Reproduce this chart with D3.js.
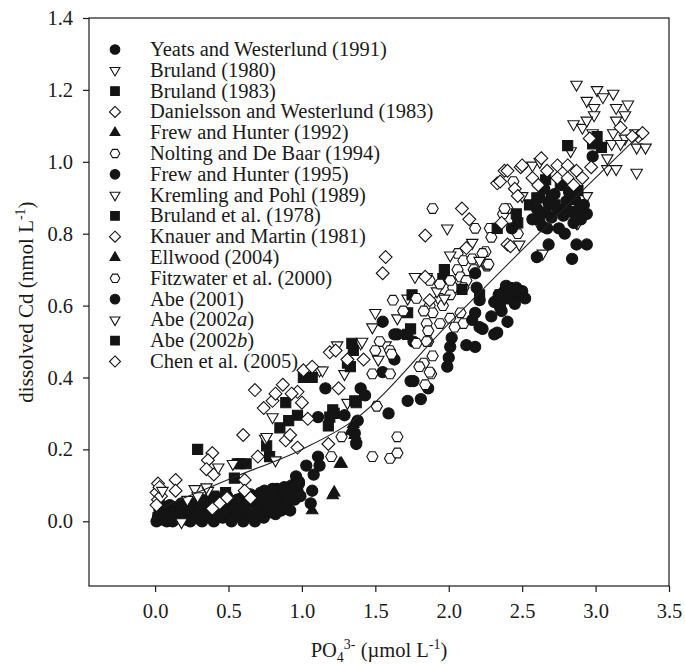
<!DOCTYPE html>
<meta charset="utf-8">
<style>
  body { margin: 0; padding: 0; background: #fff; }
  svg { font-family: "Liberation Serif", "Times New Roman", serif; background: #fff; }
  .frame { fill: none; stroke: #1a1a1a; stroke-width: 1.2px; }
  .axis path.domain { display: none; }
  .axis line { stroke: #1a1a1a; stroke-width: 1.2px; }
  .axis text { fill: #1a1a1a; font-family: "Liberation Serif", serif; font-size: 20.5px; }
  .fit { fill: none; stroke: #222; stroke-width: 1.1px; }
</style>
<script src="https://d3js.org/d3.v7.min.js"></script>
<svg id="vis"></svg>
<script>

var width = 685, height = 664;

// ---- data (PO4 umol/L, Cd nmol/L) ----
var yeats1991 = [[0.02,0.012],[0.03,0.03],[0.05,0.005],[0.07,0.02],[0.09,0.035],[0.11,0.01],[0.13,0.025],[0.15,0.04],[0.17,0.015],[0.19,0.03],[0.21,0.005],[0.23,0.045],[0.25,0.02],[0.27,0.035],[0.29,0.008],[0.31,0.05],[0.33,0.025],[0.35,0.04],[0.37,0.06],[0.39,0.015],[0.41,0.035],[0.43,0.055],[0.45,0.02],[0.47,0.045],[0.49,0.07],[0.51,0.03],[0.53,0.05],[0.55,0.015],[0.57,0.04],[0.59,0.065],[0.61,0.03],[0.63,0.055],[0.65,0.075],[0.67,0.02],[0.69,0.045],[0.71,0.065],[0.73,0.035],[0.745,0.085],[0.77,0.05],[0.79,0.07],[0.81,0.04],[0.83,0.09],[0.85,0.06],[0.87,0.08],[0.89,0.045],[0.91,0.07],[0.93,0.1],[0.95,0.06],[0.97,0.085],[0.98,0.11],[0.96,0.125],
  [0.01,0.0],[0.04,0.045],[0.06,0.015],[0.08,0.0],[0.1,0.045],[0.12,0.0],[0.16,0.025],[0.18,0.05],[0.2,0.015],[0.22,0.025],[0.24,0.0],[0.26,0.05],[0.28,0.02],[0.3,0.035],[0.32,0.0],[0.34,0.015],[0.36,0.055],[0.38,0.03],[0.4,0.0],[0.42,0.02],[0.44,0.065],[0.46,0.01],[0.48,0.025],[0.5,0.05],[0.52,0.0],[0.54,0.035],[0.56,0.06],[0.58,0.02],[0.6,0.0],[0.62,0.045],[0.64,0.015],[0.66,0.06],[0.68,0.0],[0.7,0.03],[0.72,0.08],[0.74,0.01],[0.76,0.06],[0.78,0.025],[0.8,0.09],[0.82,0.02],[0.84,0.045],[0.86,0.03],[0.88,0.095],[0.9,0.055],[0.92,0.03],[0.94,0.08],[0.99,0.07],[0.95,0.1]];
var bruland1980 = [[2.87,1.215],[3.01,1.20],[3.05,1.18],[3.12,1.19],[2.94,1.17],[2.99,1.15],[3.14,1.15],[3.22,1.16],[3.20,1.13],[2.99,1.13],[3.14,1.115],[2.85,1.105],[2.91,1.095],[2.94,1.115],[3.12,1.08],[3.20,1.065],[3.27,1.08],[3.28,1.04],[3.34,1.04],[3.11,1.05],[3.08,1.01],[3.08,0.98],[3.14,0.98],[3.28,0.97],[3.17,1.05],[2.98,1.08],[2.83,1.03],[2.87,0.83],[2.94,0.905],[2.61,0.83],[2.50,0.905],[2.57,0.99],[2.62,1.0],[2.48,0.77],[2.60,0.845],[2.64,0.745],[2.88,0.83]];
var bruland1983 = [[0.02,0.01],[0.04,0.02],[0.06,0.03],[0.10,0.02],[0.14,0.04],[0.18,0.03],[0.22,0.05],[0.29,0.20],[0.33,0.06],[0.40,0.07],[0.48,0.08],[0.54,0.12],[0.56,0.16],[0.58,0.16],[0.62,0.16]];
var danielsson1983 = [[0.02,0.105],[0.01,0.08],[0.02,0.06],[0.01,0.045],[0.04,0.07],[0.03,0.095],[0.14,0.115],[0.14,0.085],[0.39,0.19],[0.36,0.17],[0.35,0.145],[0.40,0.13],[0.61,0.115],[0.61,0.085],[0.49,0.065],[0.44,0.05],[0.39,0.035],[0.65,0.065],[0.70,0.18]];
var frew1992 = [[1.07,0.03],[1.21,0.072],[1.22,0.08],[1.26,0.16],[1.27,0.16]];
var nolting1994 = [[1.89,0.87],[2.18,0.815],[2.40,0.87],[2.37,0.855],[2.06,0.745],[2.10,0.725],[2.16,0.73],[2.26,0.71],[2.17,0.70],[2.06,0.70],[2.08,0.68],[2.12,0.67],[2.03,0.65],[2.10,0.65],[2.01,0.63],[1.94,0.62],[1.96,0.60],[1.87,0.60],[1.89,0.58],[1.83,0.585],[1.94,0.55],[1.85,0.55],[2.01,0.565],[2.08,0.58],[2.10,0.55],[2.04,0.54],[2.28,0.815],[2.44,0.945],[2.38,0.87],[2.47,0.80],[2.29,0.79],[2.25,0.75],[2.26,0.715],[2.23,0.745],[2.27,0.715]];
var frew1995 = [[1.03,0.155],[1.07,0.085],[1.06,0.05],[0.98,0.105],[1.11,0.18],[1.12,0.155],[1.08,0.13],[1.11,0.29],[1.16,0.37],[1.29,0.295],[1.38,0.28],[1.40,0.37],[1.43,0.35],[1.37,0.215],[1.36,0.245],[1.59,0.30],[1.72,0.335],[1.81,0.34],[1.76,0.39],[1.86,0.37],[1.74,0.39],[1.55,0.415],[1.63,0.45],[1.55,0.555],[1.65,0.52],[1.76,0.50],[1.63,0.52],[1.99,0.43],[2.0,0.455],[2.01,0.485],[2.02,0.51],[2.12,0.49],[2.18,0.485],[2.16,0.56],[2.23,0.535],[2.33,0.525],[2.40,0.555],[2.29,0.57],[2.36,0.585],[2.21,0.54],[2.18,0.58],[2.35,0.595],[2.31,0.52],[2.21,0.615],[2.19,0.65],[2.18,0.69]];
var kremling1989 = [[1.99,0.815],[1.77,0.68],[1.85,0.68],[1.92,0.64],[2.01,0.74],[1.72,0.62],[1.65,0.565],[1.50,0.58],[1.48,0.54],[1.40,0.495],[1.97,0.62],[2.16,0.775],[2.21,0.725],[1.24,0.49],[1.41,0.50],[1.12,0.42],[1.29,0.41],[1.52,0.45],[1.31,0.33],[1.57,0.49],[1.14,0.42]];
var bruland1978 = [[0.76,0.21],[0.78,0.18],[0.89,0.33],[0.85,0.26],[0.91,0.28],[0.97,0.295],[1.01,0.40],[1.07,0.40],[1.18,0.265],[1.19,0.29],[1.22,0.30],[1.21,0.31],[1.31,0.44],[1.33,0.43],[1.34,0.495],[1.35,0.475],[1.36,0.335],[1.37,0.33],[1.72,0.52],[1.74,0.535],[1.72,0.58],[1.75,0.63],[1.97,0.70],[1.96,0.675],[2.09,0.645],[2.21,0.63]];
var knauer1981 = [[0.60,0.24],[0.89,0.225],[0.92,0.24],[0.97,0.205],[0.68,0.365],[0.74,0.315],[0.80,0.335],[0.87,0.38],[0.97,0.36],[1.0,0.33],[0.93,0.355],[0.82,0.355],[1.04,0.285],[1.18,0.215],[1.01,0.42],[1.07,0.43],[1.19,0.47],[1.23,0.475],[1.31,0.45],[1.42,0.45],[1.25,0.37]];
var ellwood2004 = [[1.33,0.25],[1.36,0.24],[1.37,0.23],[1.35,0.27]];
var fitzwater2000 = [[1.78,0.495],[1.53,0.50],[1.62,0.615],[1.69,0.585],[1.78,0.62],[1.87,0.67],[1.94,0.66],[2.01,0.67],[1.86,0.53],[1.86,0.50],[1.89,0.46],[1.83,0.44],[1.80,0.43],[1.88,0.41],[1.84,0.38],[1.50,0.475],[1.60,0.475],[1.61,0.465],[1.48,0.41],[1.60,0.41],[1.51,0.32],[1.27,0.235],[1.20,0.18],[1.48,0.18],[1.60,0.175],[1.65,0.19],[1.65,0.235],[1.85,0.50],[1.87,0.415]];
var abe2001 = [[2.31,0.61],[2.34,0.63],[2.36,0.615],[2.38,0.64],[2.40,0.62],[2.42,0.645],[2.44,0.625],[2.46,0.65],[2.48,0.63],[2.50,0.64],[2.52,0.62],[2.39,0.655],[2.45,0.605],[2.57,0.84],[2.6,0.87],[2.62,0.9],[2.65,0.925],[2.66,0.86],[2.68,0.885],[2.7,0.845],[2.72,0.91],[2.74,0.87],[2.77,0.935],[2.78,0.85],[2.8,0.89],[2.82,0.915],[2.84,0.86],[2.86,0.895],[2.88,0.865],[2.9,0.84],[2.92,0.88],[2.64,0.82],[2.75,0.815],[2.85,0.83],[2.94,0.855],[2.67,0.815],[2.79,0.80],[2.68,0.77],[2.87,0.77],[2.94,0.77],[2.60,0.735],[2.84,0.73],[2.98,1.015],[2.43,0.815]];
var abe2002a = [[0.75,0.23],[0.43,0.15],[0.53,0.16],[0.27,0.09],[0.36,0.085],[0.22,0.06],[0.18,-0.002],[0.82,0.17],[0.05,0.085],[0.80,0.29],[0.76,0.235],[0.29,0.07],[0.35,0.095]];
var abe2002b = [[2.33,0.815],[2.46,0.855],[2.47,0.83],[2.35,0.63],[2.40,0.65],[2.6,0.9],[2.7,0.9],[2.8,0.87],[2.76,0.94],[2.66,0.95],[2.88,0.92],[2.62,0.84],[2.81,1.045],[3.01,1.07],[3.04,1.04],[2.98,1.05],[2.72,0.88],[2.55,0.88]];
var chen2005 = [[1.57,0.735],[1.55,0.69],[1.84,0.795],[1.84,0.68],[1.87,0.615],[2.09,0.87],[2.14,0.84],[2.12,0.76],[2.40,0.77],[2.33,0.94],[2.35,0.945],[2.38,0.975],[2.40,0.975],[2.45,0.925],[2.47,0.905],[2.49,0.985],[2.50,0.99],[2.57,0.955],[2.61,0.935],[2.63,1.01],[2.67,0.975],[2.74,0.99],[2.81,0.99],[2.87,0.975],[2.74,0.955],[2.81,0.955],[2.91,0.955],[2.85,0.935],[2.97,0.985],[2.96,1.065],[3.17,1.095],[3.29,1.07],[3.32,1.08],[3.25,1.07],[2.42,0.765],[2.36,0.83]];

// fitted curve nodes
var fitLine = [[0.05,0.04],[0.52,0.12],[1.0,0.2],[1.35,0.28],[2.0,0.55],[2.5,0.755],[3.3,1.075]];

var legendNames = ["Yeats and Westerlund (1991)","Bruland (1980)","Bruland (1983)","Danielsson and Westerlund (1983)",
  "Frew and Hunter (1992)","Nolting and De Baar (1994)","Frew and Hunter (1995)","Kremling and Pohl (1989)",
  "Bruland et al. (1978)","Knauer and Martin (1981)","Ellwood (2004)","Fitzwater et al. (2000)",
  "Abe (2001)","Abe (2002a)","Abe (2002b)","Chen et al. (2005)"];
var symbolCycle = ["circle","triDown","square","diamond","triUp","hexagon"];
var seriesData = [yeats1991,bruland1980,bruland1983,danielsson1983,frew1992,nolting1994,frew1995,kremling1989,
  bruland1978,knauer1981,ellwood2004,fitzwater2000,abe2001,abe2002a,abe2002b,chen2005];

var xTicks = [0.0,0.5,1.0,1.5,2.0,2.5,3.0,3.5];
var yTicks = [0.0,0.2,0.4,0.6,0.8,1.0,1.2,1.4];

var series = legendNames.map(function(n,i){
  return {name:n, sym:symbolCycle[i % 6], data:seriesData[i]};
});

var svg = d3.select("#vis").attr("width",width).attr("height",height);

var x = d3.scaleLinear().domain([-0.45,3.5]).range([89,669]);
var y = d3.scaleLinear().domain([-0.18,1.4]).range([586,18]);

// marker shapes
function symbolPath(type, r) {
  var p = d3.path();
  if (type == "circle") {
    p.arc(0,0,r,0,2*Math.PI);
  } else if (type == "triDown" || type == "triUp") {
    var a = r*2.05, h = a*0.866, s = (type == "triUp") ? -1 : 1;
    p.moveTo(-a/2, -s*h/3); p.lineTo(a/2, -s*h/3); p.lineTo(0, s*2*h/3);
  } else if (type == "square") {
    var q = r*0.9;
    p.moveTo(-q,-q); p.lineTo(q,-q); p.lineTo(q,q); p.lineTo(-q,q);
  } else if (type == "diamond") {
    var d = r*1.15;
    p.moveTo(0,-d); p.lineTo(d,0); p.lineTo(0,d); p.lineTo(-d,0);
  } else if (type == "hexagon") {
    for (var k=0;k<6;k++) {
      var ang = Math.PI/3*k;
      if (k==0) p.moveTo(r*Math.cos(ang), r*Math.sin(ang));
      else p.lineTo(r*Math.cos(ang), r*Math.sin(ang));
    }
  }
  p.closePath();
  return p.toString();
}
function isFilled(type){ return type=="circle" || type=="square" || type=="triUp"; }

// axes
svg.append("g").attr("class","axis")
  .attr("transform","translate(0,586)")
  .call(d3.axisBottom(x).tickValues(xTicks).tickFormat(d3.format(".1f")).tickSize(6).tickPadding(11))
  .call(function(g){ g.attr("font-family",null).attr("font-size",null); });

svg.append("g").attr("class","axis")
  .attr("transform","translate(89,0)")
  .call(d3.axisLeft(y).tickValues(yTicks).tickFormat(d3.format(".1f")).tickSize(6).tickPadding(10))
  .call(function(g){ g.attr("font-family",null).attr("font-size",null); });

// points
series.forEach(function(s){
  svg.append("g")
    .selectAll("path")
    .data(s.data)
    .enter().append("path")
      .attr("d", symbolPath(s.sym, 5.6))
      .attr("transform", function(d){ return "translate(" + x(d[0]) + "," + y(d[1]) + ")"; })
      .attr("fill", isFilled(s.sym) ? "#141414" : "#fff")
      .attr("stroke", "#141414")
      .attr("stroke-width", 1.1);
});

// fitted curve
svg.append("path")
  .datum(fitLine)
  .attr("class","fit")
  .attr("d", d3.line().x(function(d){return x(d[0]);}).y(function(d){return y(d[1]);}).curve(d3.curveMonotoneX));

// frame
svg.append("rect").attr("class","frame")
  .attr("x",89).attr("y",18).attr("width",580).attr("height",568);

// legend
var legend = svg.append("g").attr("class","legend");
series.forEach(function(s,i){
  var cy = 49.5 + i*20.8;
  legend.append("path")
    .attr("d", symbolPath(s.sym, 4.8))
    .attr("transform","translate(115," + cy + ")")
    .attr("fill", isFilled(s.sym) ? "#141414" : "#fff")
    .attr("stroke","#141414").attr("stroke-width",1.1);
  var t = legend.append("text").attr("x",150).attr("y",cy+6.5)
    .attr("font-size",20.5).attr("fill","#1a1a1a");
  var m = s.name.match(/^(.*2002)([ab])(\))$/);
  if (m) {
    t.append("tspan").text(m[1]);
    t.append("tspan").attr("font-style","italic").text(m[2]);
    t.append("tspan").text(m[3]);
  } else {
    t.text(s.name);
  }
});

// axis titles
var xt = svg.append("text").attr("x",379).attr("y",657).attr("text-anchor","middle")
  .attr("font-size",20.5).attr("fill","#1a1a1a");
xt.append("tspan").text("PO");
xt.append("tspan").attr("font-size",14).attr("dy",5).text("4");
xt.append("tspan").attr("font-size",14).attr("dy",-13).text("3-");
xt.append("tspan").attr("dy",8).text(" (\u00b5mol L");
xt.append("tspan").attr("font-size",14).attr("dy",-8).text("-1");
xt.append("tspan").attr("dy",8).text(")");

var yt = svg.append("text").attr("transform","translate(33,302) rotate(-90)").attr("text-anchor","middle")
  .attr("font-size",21).attr("fill","#1a1a1a");
yt.append("tspan").text("dissolved Cd (nmol L");
yt.append("tspan").attr("font-size",14).attr("dy",-8).text("-1");
yt.append("tspan").attr("dy",8).text(")");

</script>
